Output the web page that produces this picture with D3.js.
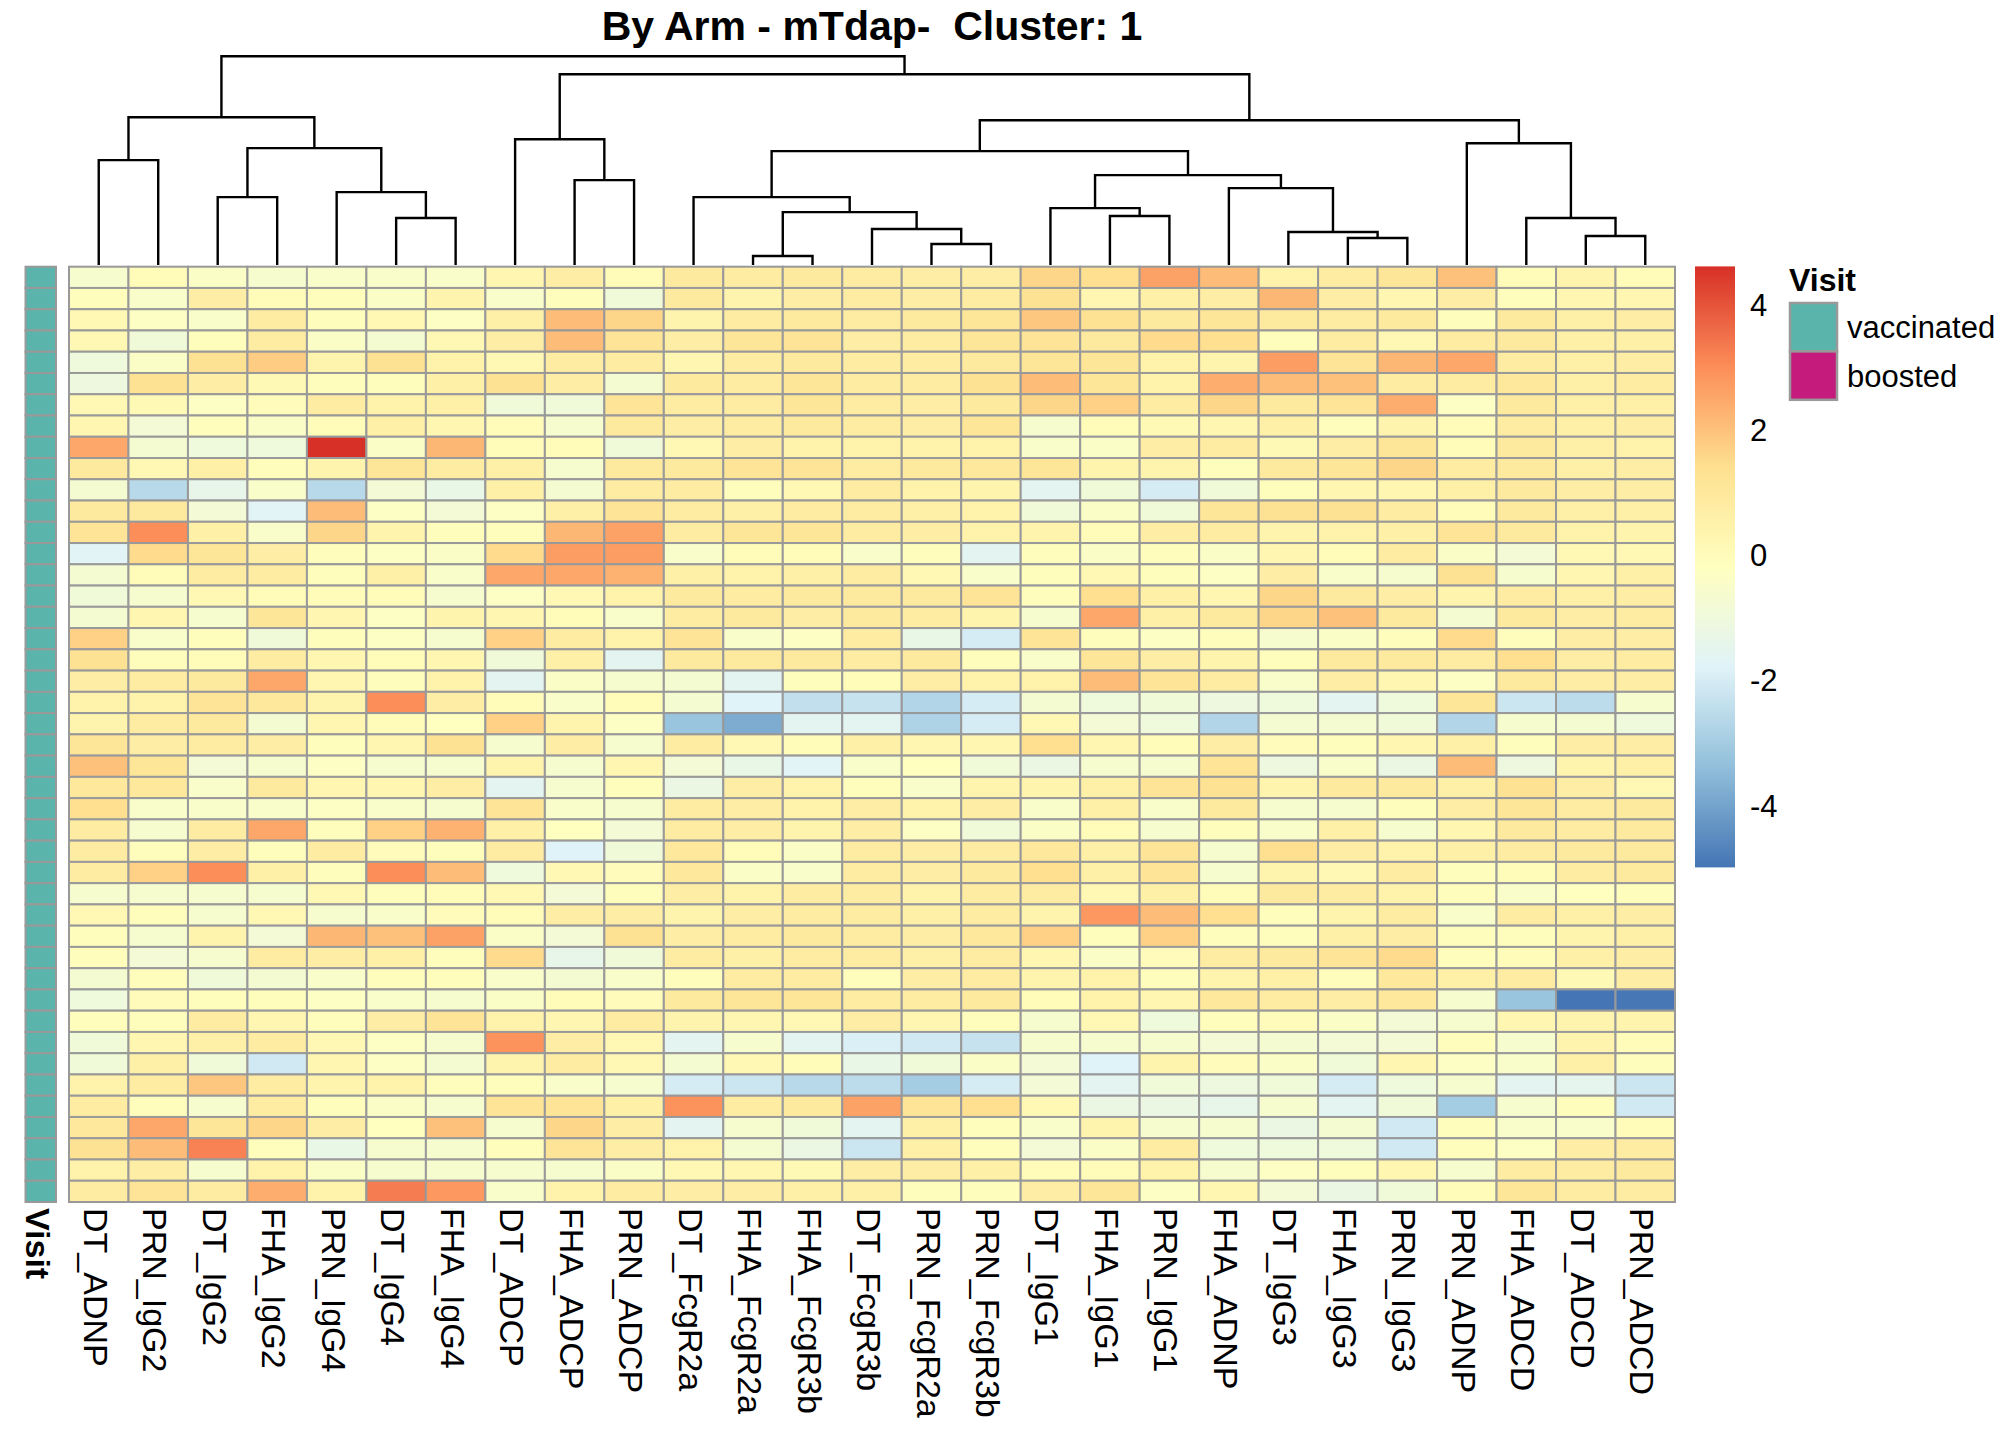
<!DOCTYPE html>
<html>
<head>
<meta charset="utf-8">
<script src="https://cdn.jsdelivr.net/npm/d3@7"></script>
<style>
	body { margin: 0; background: #fff; }
	text { font-family: "Liberation Sans", Arial, sans-serif; fill: #000; }
</style>
</head>
<body>
<div id="chart"></div>
<script>
const chartTitle = 'By Arm - mTdap-  Cluster: 1';

const columns = ['DT_ADNP', 'PRN_IgG2', 'DT_IgG2', 'FHA_IgG2', 'PRN_IgG4', 'DT_IgG4', 'FHA_IgG4',
	'DT_ADCP', 'FHA_ADCP', 'PRN_ADCP', 'DT_FcgR2a', 'FHA_FcgR2a', 'FHA_FcgR3b', 'DT_FcgR3b',
	'PRN_FcgR2a', 'PRN_FcgR3b', 'DT_IgG1', 'FHA_IgG1', 'PRN_IgG1', 'FHA_ADNP', 'DT_IgG3',
	'FHA_IgG3', 'PRN_IgG3', 'PRN_ADNP', 'FHA_ADCD', 'DT_ADCD', 'PRN_ADCD'];

// annotation per row
const visit = [
	'vaccinated', 'vaccinated', 'vaccinated', 'vaccinated', 'vaccinated', 'vaccinated', 'vaccinated', 'vaccinated', 'vaccinated', 'vaccinated', 'vaccinated',
	'vaccinated', 'vaccinated', 'vaccinated', 'vaccinated', 'vaccinated', 'vaccinated', 'vaccinated', 'vaccinated', 'vaccinated', 'vaccinated', 'vaccinated',
	'vaccinated', 'vaccinated', 'vaccinated', 'vaccinated', 'vaccinated', 'vaccinated', 'vaccinated', 'vaccinated', 'vaccinated', 'vaccinated', 'vaccinated',
	'vaccinated', 'vaccinated', 'vaccinated', 'vaccinated', 'vaccinated', 'vaccinated', 'vaccinated', 'vaccinated', 'vaccinated', 'vaccinated', 'vaccinated'];
const visitLevels = ['vaccinated', 'boosted'];
const visitColors = ['#5AB4AC', '#C51B7D'];

// scaled values, one array per row (columns in dendrogram order)
const cellValues = [
	[-0.6, 0.0, -0.4, -0.6, -0.5, -0.5, -0.5, 0.3, 0.7, 0.0, 0.9, 0.8, 0.9, 0.8, 0.7, 0.7, 1.6, 1.4, 2.6, 2.1, 0.5, 0.8, 1.1, 2.0, 0.0, 0.4, 0.0],
	[-0.1, -0.5, 0.7, 0.0, -0.1, -0.4, 0.4, -0.5, -0.1, -0.9, 0.9, 0.4, 0.7, 0.8, 0.7, 0.8, 1.3, 0.3, 0.6, 0.7, 2.2, 0.7, 0.3, 0.7, -0.1, 0.3, 0.3],
	[0.2, -0.3, -0.5, 0.8, -0.1, 0.2, -0.3, 0.6, 2.1, 1.6, 0.4, 0.8, 0.9, 0.8, 0.9, 1.1, 1.9, 1.3, 0.9, 1.1, 0.9, 0.8, 0.9, -0.1, 0.9, 0.6, 0.7],
	[0.2, -0.9, -0.1, 0.8, -0.4, -0.7, 0.2, 0.7, 2.1, 1.2, 0.7, 1.1, 1.2, 0.7, 0.8, 1.1, 1.2, 0.9, 1.5, 1.4, -0.1, 0.8, 0.2, 0.8, 0.9, 0.6, 0.6],
	[-1.0, -0.4, 1.3, 1.8, 0.4, 1.3, 0.5, 0.2, 0.8, 0.8, 0.3, 0.8, 0.9, 0.8, 0.8, 0.9, 1.1, 1.1, 0.5, 0.4, 2.7, 1.2, 2.2, 2.5, 0.8, 0.6, 0.7],
	[-1.1, 1.3, 0.7, 0.1, -0.1, -0.1, 0.6, 1.3, 0.7, -0.7, 0.9, 0.8, 1.1, 0.8, 0.8, 1.3, 2.1, 1.1, 0.5, 2.4, 2.1, 2.0, 0.8, 0.8, 1.0, 0.6, 0.8],
	[0.2, 0.1, -0.3, -0.05, 0.8, 0.5, 0.6, -0.9, -0.9, 1.2, 0.8, 0.8, 1.1, 0.8, 0.7, 0.9, 1.6, 1.7, 0.8, 1.6, 0.9, 1.2, 2.4, -0.3, 0.9, 0.6, 0.6],
	[0.3, -0.8, -0.1, -0.4, 0.0, 0.6, 0.3, 0.0, -0.6, 0.9, 0.7, 0.8, 0.9, 0.8, 0.7, 1.1, -0.6, 0.0, 0.1, 0.3, 0.6, -0.1, 0.4, 0.0, 0.8, 0.6, 0.7],
	[2.5, -0.7, -1.0, -1.0, 4.61, -0.4, 2.2, 0.0, 0.0, -0.9, 0.2, 0.7, 0.5, 0.5, 0.5, 0.5, -0.5, -0.4, 0.7, 0.8, 0.1, 0.7, 1.1, 0.0, 0.9, 0.6, 0.5],
	[0.9, 0.2, 0.6, -0.1, 0.4, 1.1, 0.8, 0.6, -0.6, 0.9, 0.9, 1.2, 1.2, 0.8, 0.9, 1.0, 1.1, 0.4, 0.4, -0.1, 0.9, 1.1, 1.6, 0.8, 0.9, 0.6, 0.7],
	[-0.7, -2.6, -1.4, -0.5, -2.6, -0.8, -1.3, 0.6, -0.7, 0.8, 0.8, -0.1, 0.2, 0.8, 0.5, 0.4, -1.6, -0.9, -2.0, -0.9, -0.1, 0.3, 0.3, 0.6, 0.9, 0.7, 0.7],
	[0.9, 0.9, -0.8, -1.7, 2.1, -0.3, -0.8, -0.3, 0.6, 1.2, 0.8, 0.6, 0.8, 0.8, 0.6, 0.5, -0.9, -0.4, -0.9, 1.1, 1.3, 1.3, 0.8, 0.0, 0.9, 0.6, 0.6],
	[1.2, 3.0, 0.6, -0.5, 1.6, 0.4, -0.1, -0.1, 2.2, 2.6, 0.8, 1.1, 1.1, 0.8, 0.7, 0.5, 0.4, 0.0, 0.7, 0.8, 0.4, 0.5, 0.6, 1.2, 0.9, 0.5, 0.4],
	[-1.7, 1.5, 1.1, 0.7, -0.1, -0.3, -0.4, 1.5, 2.7, 2.7, -0.5, 0.0, 0.0, -0.5, -0.1, -1.6, -0.1, -0.4, -0.1, -0.4, 0.3, 0.0, 0.8, -0.4, -0.8, 0.2, 0.2],
	[-0.7, 0.0, 0.8, 0.8, -0.1, 0.6, -0.5, 2.5, 2.5, 2.3, 0.6, 0.5, 0.6, 0.8, 0.2, -0.5, -0.1, 0.2, -0.1, -0.3, 0.7, -0.5, -0.6, 1.3, -0.6, 0.3, 0.6],
	[-0.9, -0.6, 0.2, 0.0, 0.0, 0.0, -0.6, -0.3, 0.2, 0.5, 0.9, 0.8, 0.9, 0.9, 0.9, 1.2, -0.1, 1.4, 0.6, 0.3, 1.6, 0.9, 0.7, 0.4, 0.8, 0.6, 0.7],
	[-0.7, 0.3, -0.6, 1.1, 0.3, -0.3, 0.4, 0.3, 0.0, -0.5, 0.8, 0.9, 0.7, 0.9, 0.8, 0.4, -0.6, 2.5, 0.6, 0.9, 1.6, 2.0, 0.9, -0.7, 0.9, 0.7, 0.8],
	[1.7, -0.5, -0.1, -0.9, -0.1, -0.3, -0.6, 1.7, 0.8, 0.5, 1.2, -0.5, -0.3, 0.8, -1.3, -2.0, 1.2, -0.1, -0.3, -0.1, -0.6, -0.4, -0.1, 1.5, -0.1, 0.7, 0.7],
	[1.3, -0.1, 0.0, 0.8, 0.3, 0.0, 0.3, -0.9, 0.6, -1.6, 0.9, 0.9, 0.9, 0.8, 0.9, -0.1, -0.5, 1.1, 0.7, 0.4, -0.1, 0.9, 0.9, 0.8, 1.4, 0.7, 0.8],
	[0.7, 0.8, 0.9, 2.5, 0.3, -0.1, 0.5, -1.6, -0.4, -0.6, -0.7, -1.6, -0.1, 0.0, 0.7, 0.5, 0.5, 2.1, 1.2, 0.8, -0.5, 0.7, 0.3, -0.3, 0.9, 0.7, 0.7],
	[0.5, 0.5, 1.2, 1.0, 0.4, 3.0, 0.7, 0.0, -0.5, 0.0, -0.7, -1.8, -2.4, -2.3, -2.7, -2.0, -0.7, -1.0, -0.9, -1.1, -1.0, -1.6, -1.0, 1.1, -2.2, -2.5, -0.6],
	[0.4, 0.8, 0.9, -0.7, 0.3, 0.0, -0.2, 1.7, 0.4, -0.3, -3.2, -3.8, -1.6, -1.6, -2.8, -2.0, 0.2, -0.8, -1.0, -2.7, -0.7, -0.7, -0.9, -2.7, -0.6, -0.7, -1.0],
	[1.1, 0.7, 0.8, 0.7, -0.1, 0.3, 1.3, -0.6, 0.7, -0.6, 0.8, 0.2, 0.0, 0.6, 0.3, 0.3, 1.4, 0.3, 0.0, 0.7, -0.05, -0.1, 0.3, 0.6, -0.1, 0.7, 0.7],
	[2.0, 1.1, -0.8, -0.6, -0.3, -0.6, -0.6, 0.4, -0.6, 0.3, -0.8, -1.3, -1.7, -0.5, -0.2, -0.9, -1.2, -0.6, -0.6, 1.2, -1.1, -0.5, -1.2, 2.1, -1.1, 0.4, 0.6],
	[1.0, 1.0, -0.5, 0.9, 0.3, 0.3, 0.7, -1.6, -0.6, -0.1, -1.2, 0.7, 0.5, -0.1, -0.5, 0.4, 0.4, 0.6, 1.2, 1.3, 0.4, 0.9, 0.9, 0.6, 1.3, 0.7, 0.2],
	[1.4, -0.5, -0.5, -0.5, -0.3, -0.5, -0.6, 1.2, -0.5, -0.6, 0.8, 0.7, 0.5, 0.7, 0.5, 0.7, -0.5, 0.6, -0.5, 0.9, -0.6, -0.6, -0.1, 0.7, 1.1, 0.8, 0.9],
	[0.8, -0.6, 0.8, 2.5, -0.1, 1.7, 2.3, 0.6, -0.2, -0.8, 0.8, 0.7, 0.4, 0.7, -0.3, -0.9, -0.4, 0.0, -0.6, -0.1, -0.5, 0.6, -0.6, 0.3, 0.9, 0.8, 0.9],
	[0.8, -0.1, 0.7, -0.1, 0.8, -0.05, -0.1, 0.8, -1.8, -0.9, 1.0, 0.0, -0.4, 0.8, 0.7, 0.8, 1.0, 0.6, 1.2, -0.6, 1.4, 0.7, 0.5, 0.6, 0.8, 0.9, 0.9],
	[0.8, 1.7, 3.0, 0.6, -0.1, 3.0, 2.1, -1.0, 0.2, -0.05, 1.0, -0.4, -0.5, 0.8, 0.7, 0.9, 1.4, 0.6, 1.2, -0.6, 0.4, 0.2, 0.8, -0.1, 0.0, 0.8, 0.9],
	[-0.6, -0.6, -0.6, -0.6, 0.2, -0.1, 0.0, 0.2, -0.8, -0.1, 0.7, 0.5, 0.8, 0.8, 0.5, 0.8, 0.8, 0.2, 0.6, 0.0, 0.9, 0.8, 0.5, -0.1, -0.5, -0.2, -0.1],
	[0.2, -0.1, -0.6, 0.2, -0.6, -0.5, -0.05, 0.0, 0.7, 0.7, 0.4, 0.7, 0.8, 0.8, 0.6, 0.8, 0.4, 2.8, 2.1, 1.4, -0.1, 0.4, 0.8, -0.5, 0.8, 0.6, 0.7],
	[-0.1, -0.6, 0.4, -0.8, 2.2, 2.0, 2.6, -0.4, -0.8, 1.3, 0.7, 0.8, 0.9, 0.8, 0.7, 1.0, 1.7, -0.1, 1.7, -0.1, -0.1, 0.6, 0.7, -0.1, -0.1, 0.4, 0.6],
	[-0.1, -0.8, -0.6, 0.8, 0.7, 0.6, -0.1, 1.5, -1.4, -0.9, 0.8, 0.6, 0.8, 0.8, 0.6, 0.8, 0.3, -0.4, -0.05, 0.8, 0.9, 1.2, 1.5, -0.1, 0.0, 0.6, 0.7],
	[-0.7, -0.1, -0.9, -0.7, -0.5, -0.1, -0.1, -0.5, -0.7, -0.5, -0.1, 0.8, 0.8, -0.1, 0.7, 0.8, 0.4, 0.5, -0.1, 0.4, 0.6, -0.1, 1.0, 0.6, 0.8, 0.1, 0.7],
	[-1.0, -0.05, -0.1, -0.1, -0.3, -0.5, -0.6, -0.4, 0.0, -0.05, 0.9, 1.1, 1.1, 0.8, 0.8, 0.9, 0.0, 0.5, 0.3, 1.0, 0.8, 0.7, 1.0, -0.6, -3.2, -4.99, -4.95],
	[-0.1, -0.1, 0.8, 0.3, -0.1, 0.7, 1.2, 0.5, 0.3, 0.8, 0.4, 0.3, 0.2, 0.7, 0.3, -0.1, -0.6, 0.2, -1.0, -0.1, -0.05, -0.4, -0.8, -0.6, 0.3, 0.4, 0.4],
	[-0.9, 0.3, 0.6, 0.8, 0.2, -0.3, -0.6, 2.9, 0.7, 0.2, -1.6, -0.6, -1.6, -1.9, -2.1, -2.3, -0.6, -0.6, -0.6, -0.8, -0.7, -0.8, -0.8, -0.1, -0.6, 0.4, 0.0],
	[-0.9, 0.6, -0.9, -2.1, 0.3, -0.3, -0.7, 0.4, 0.8, 0.2, -0.7, 0.2, 0.0, -1.3, -0.9, -0.4, -0.8, -1.8, 0.4, -0.05, -0.4, -0.9, 0.3, -0.3, -0.5, 0.6, -0.1],
	[0.5, 0.8, 1.9, 0.8, 0.4, 0.5, -0.1, -0.1, -0.5, -0.6, -2.0, -2.2, -2.6, -2.5, -3.0, -2.0, -0.8, -1.6, -0.9, -1.1, -0.9, -2.0, -1.0, -0.6, -1.6, -1.5, -2.2],
	[0.8, -0.1, -0.6, 0.8, -0.1, -0.4, -0.6, 1.2, 1.2, 0.6, 2.9, 0.8, 0.9, 2.6, 1.2, 1.4, 0.2, -1.2, -1.2, -1.4, -0.6, -1.6, -0.9, -3.0, -0.6, -0.1, -2.1],
	[1.0, 2.5, 1.1, 1.6, 0.7, -0.2, 2.0, -0.6, 1.6, 0.7, -1.6, -0.6, -0.9, -1.6, 0.6, -0.1, -0.5, 0.4, -0.6, -0.6, -1.2, -0.7, -2.1, -0.1, -0.5, -0.5, 0.0],
	[1.3, 2.1, 3.2, -0.1, -1.3, -0.6, -0.6, -0.1, 1.2, 0.7, 0.5, -0.7, -1.2, -2.2, 0.6, -0.1, -0.8, -0.4, 0.8, -1.0, -1.0, -1.0, -2.1, -0.1, -0.3, 0.7, 0.8],
	[0.5, 0.7, -0.6, 0.5, -0.4, -0.6, -0.6, -0.6, -0.6, -0.4, 0.2, 0.3, 0.1, 0.7, 0.7, 0.6, 0.0, 0.0, 0.5, -0.6, -0.3, -0.1, 0.3, -0.6, 0.8, 0.8, 0.9],
	[0.8, 1.2, 0.8, 2.4, 0.5, 3.3, 2.8, -0.5, 0.5, 0.8, 0.7, 0.7, 0.6, 0.6, -0.1, -0.1, 0.7, 1.1, -0.3, 0.3, -0.8, -1.2, -0.9, 0.0, 1.1, 0.8, 0.8],
];

// column clustering, hclust style: negative = leaf (1-based column), positive = earlier merge
const merges = [
	[-12, -13], [-15, -16], [-22, -23], [-26, -27], [-21, 3], [-14, 2], [-6, -7],
	[-25, 4], [-18, -19], [1, 6], [-17, 9], [-3, -4], [-11, 10], [-5, 7],
	[-20, 5], [-9, -10], [11, 15], [-1, -2], [13, 17], [12, 14], [-24, 8],
	[-8, 16], [19, 21], [18, 20], [22, 23], [24, 25],
];
const mergeHeights = [0.9, 2.1, 2.7, 2.9, 3.3, 3.6, 4.7, 4.7, 4.9, 5.3, 5.7, 6.8, 6.8, 7.3,
	7.7, 8.5, 9.0, 10.5, 11.4, 11.7, 12.2, 12.6, 14.5, 14.8, 19.1, 20.9];

const legendTicks = [-4, -2, 0, 2, 4];
const palette = ['#4575B4', '#91BFDB', '#E0F3F8', '#FFFFBF', '#FEE090', '#FC8D59', '#D73027'];

// layout
const width = 2016;
const height = 1440;
const heat = { left: 69, right: 1675, top: 266.7, bottom: 1202 };
const annot = { left: 25.5, right: 56 };
const gridColor = '#999999';

const svg = d3.select('#chart').append('svg')
	.attr('width', width)
	.attr('height', height)
	.style('display', 'block');

const x = d3.scaleBand()
	.domain(columns)
	.range([heat.left, heat.right]);
const y = d3.scaleBand()
	.domain(d3.range(cellValues.length))
	.range([heat.top, heat.bottom]);

const [vMin, vMax] = d3.extent(cellValues.flat());
const color = d3.scaleLinear()
	.domain(palette.map((p, i) => vMin + (i * (vMax - vMin)) / (palette.length - 1)))
	.range(palette)
	.interpolate(d3.interpolateRgb);

// title (keeps the double space)
svg.append('text')
	.attr('x', (heat.left + heat.right) / 2)
	.attr('y', 40)
	.attr('text-anchor', 'middle')
	.style('font-size', '41px')
	.style('font-weight', 'bold')
	.style('white-space', 'pre')
	.text(chartTitle);

// heatmap cells
const cells = cellValues.flatMap((row, r) => row.map((v, c) => ({ r, col: columns[c], v })));
svg.append('g').selectAll('rect')
	.data(cells)
	.enter().append('rect')
		.attr('x', d => x(d.col))
		.attr('y', d => y(d.r))
		.attr('width', x.bandwidth())
		.attr('height', y.bandwidth())
		.style('fill', d => color(d.v))
		.style('stroke', gridColor)
		.style('stroke-width', 2);

// visit annotation column
const visitColor = d3.scaleOrdinal().domain(visitLevels).range(visitColors);
svg.append('g').selectAll('rect')
	.data(visit)
	.enter().append('rect')
		.attr('x', annot.left)
		.attr('y', (d, i) => y(i))
		.attr('width', annot.right - annot.left)
		.attr('height', y.bandwidth())
		.style('fill', d => visitColor(d))
		.style('stroke', gridColor)
		.style('stroke-width', 2);

// column dendrogram
const hy = d3.scaleLinear()
	.domain([0, d3.max(mergeHeights)])
	.range([265, 56.3]);
const nodeX = [];
const nodeAt = ref => (ref < 0
	? { x: x(columns[-ref - 1]) + x.bandwidth() / 2, h: 0 }
	: { x: nodeX[ref - 1], h: mergeHeights[ref - 1] });
const links = merges.map(([a, b], i) => {
	const pa = nodeAt(a);
	const pb = nodeAt(b);
	const h = mergeHeights[i];
	nodeX[i] = (pa.x + pb.x) / 2;
	return `M${pa.x},${hy(pa.h)}V${hy(h)}H${pb.x}V${hy(pb.h)}`;
});
svg.append('g').selectAll('path')
	.data(links)
	.enter().append('path')
		.attr('d', d => d)
		.style('fill', 'none')
		.style('stroke', '#000')
		.style('stroke-width', 2.4);

// column labels
svg.append('g').selectAll('text')
	.data(columns)
	.enter().append('text')
		.attr('transform', d => `translate(${x(d) + x.bandwidth() / 2}, 1208) rotate(90)`)
		.attr('dy', '0.44em')
		.style('font-size', '34px')
		.text(d => d);
svg.append('text')
	.attr('transform', `translate(${(annot.left + annot.right) / 2}, 1208) rotate(90)`)
	.attr('dy', '0.44em')
	.style('font-size', '34px')
	.style('font-weight', 'bold')
	.text('Visit');

// colour key
const key = { left: 1695, right: 1735, top: 266.4, bottom: 867.4 };
const ky = d3.scaleLinear().domain([vMin, vMax]).range([key.bottom, key.top]);
const grad = svg.append('defs').append('linearGradient')
	.attr('id', 'keygrad')
	.attr('x1', 0).attr('y1', 1)
	.attr('x2', 0).attr('y2', 0);
grad.selectAll('stop')
	.data(palette)
	.enter().append('stop')
		.attr('offset', (d, i) => i / (palette.length - 1))
		.attr('stop-color', d => d);
svg.append('rect')
	.attr('x', key.left)
	.attr('y', key.top)
	.attr('width', key.right - key.left)
	.attr('height', key.bottom - key.top)
	.style('fill', 'url(#keygrad)');
svg.append('g').selectAll('text')
	.data(legendTicks)
	.enter().append('text')
		.attr('x', 1750)
		.attr('y', d => ky(d))
		.attr('dy', '0.36em')
		.style('font-size', '31px')
		.text(d => d);

// annotation legend
svg.append('text')
	.attr('x', 1789)
	.attr('y', 291)
	.style('font-size', '32px')
	.style('font-weight', 'bold')
	.text('Visit');
const boxH = 48.4;
const legendRows = svg.append('g').selectAll('g')
	.data(visitLevels)
	.enter().append('g')
		.attr('transform', (d, i) => `translate(1790, ${303 + i * boxH})`);
legendRows.append('rect')
	.attr('width', 47)
	.attr('height', boxH)
	.style('fill', d => visitColor(d))
	.style('stroke', gridColor)
	.style('stroke-width', 2.5);
legendRows.append('text')
	.attr('x', 57)
	.attr('y', boxH / 2)
	.attr('dy', '0.36em')
	.style('font-size', '31px')
	.text(d => d);
</script>
</body>
</html>
